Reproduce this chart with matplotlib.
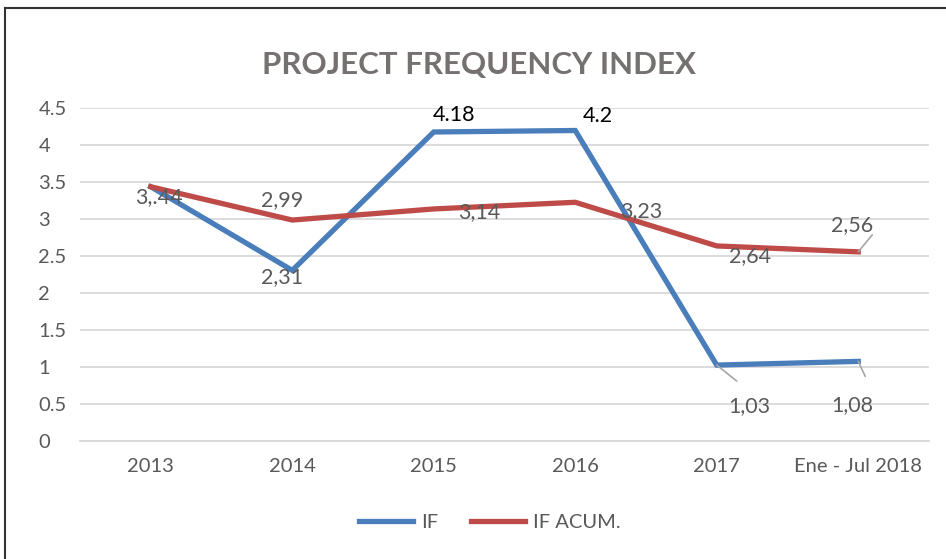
import matplotlib.pyplot as plt
from matplotlib.lines import Line2D

# data
categories = ['2013', '2014', '2015', '2016', '2017', 'Ene - Jul 2018']
if_values = [3.44, 2.31, 4.18, 4.20, 1.03, 1.08]
if_acum_values = [3.44, 2.99, 3.14, 3.23, 2.64, 2.56]
if_labels = ['', '2,31', '4.18', '4.2', '1,03', '1,08']
if_acum_labels = ['3,.44', '2,99', '3,14', '3,23', '2,64', '2,56']

plt.rcParams['font.family'] = ['Lato', 'DejaVu Sans']

BLUE = '#4a7ebb'
RED = '#be4b48'
GRAY = '#595959'

fig = plt.figure(figsize=(9.46, 5.59), dpi=100)
ax = fig.add_axes([80 / 946, 1 - 441.3 / 559, 849 / 946, 333 / 559])

x = list(range(len(categories)))
ax.plot(x, if_values, color=BLUE, lw=3.8, solid_joinstyle='miter', label='IF', zorder=3)
ax.plot(x, if_acum_values, color=RED, lw=3.8, solid_joinstyle='miter', label='IF ACUM.', zorder=3)

ax.set_xlim(-0.5, len(categories) - 0.5)
ax.set_ylim(0, 4.5)
ax.set_yticks([0, 0.5, 1, 1.5, 2, 2.5, 3, 3.5, 4, 4.5])
ax.set_yticklabels(['0', '0.5', '1', '1.5', '2', '2.5', '3', '3.5', '4', '4.5'])
ax.set_xticks(x)
ax.set_xticklabels(categories)
ax.grid(axis='y', color='#d9d9d9', lw=1.3, zorder=0)
ax.tick_params(axis='both', length=0, labelsize=14.5, labelcolor=GRAY)
ax.tick_params(axis='y', pad=30)
for t in ax.get_yticklabels():
    t.set_horizontalalignment('left')
ax.tick_params(axis='x', pad=12)
for s in ['top', 'right', 'left']:
    ax.spines[s].set_visible(False)
ax.spines['bottom'].set_color('#d9d9d9')
ax.spines['bottom'].set_linewidth(1.3)

# label offsets in pixels (dx, dy)
if_offsets = [(0, 0), (-10, -7), (20, 17), (23, 15), (33, -41), (-6, -44)]
acum_offsets = [(8, -10), (-10, 20), (45, -3), (66, -9), (33, -10), (-6, 27)]
if_colors = [GRAY, GRAY, '#000000', '#000000', GRAY, GRAY]

for i, (lab, off) in enumerate(zip(if_labels, if_offsets)):
    if lab:
        ax.annotate(lab, (x[i], if_values[i]), xytext=off, textcoords='offset pixels',
                    ha='center', va='center', fontsize=15.5, color=if_colors[i], zorder=5)
for i, (lab, off) in enumerate(zip(if_acum_labels, acum_offsets)):
    ax.annotate(lab, (x[i], if_acum_values[i]), xytext=off, textcoords='offset pixels',
                ha='center', va='center', fontsize=15.5, color=GRAY, zorder=5)

# leader lines
ax.annotate('', (x[4], if_values[4]), xytext=(20, -16), textcoords='offset pixels',
            arrowprops=dict(arrowstyle='-', color='#a6a6a6', lw=1.2, shrinkA=0, shrinkB=0))
ax.annotate('', (x[5], if_values[5]), xytext=(7, -15), textcoords='offset pixels',
            arrowprops=dict(arrowstyle='-', color='#a6a6a6', lw=1.2, shrinkA=0, shrinkB=0))
ax.annotate('', (x[5], if_acum_values[5]), xytext=(14, 17), textcoords='offset pixels',
            arrowprops=dict(arrowstyle='-', color='#a6a6a6', lw=1.2, shrinkA=0, shrinkB=0))

fig.text(479 / 946, 1 - 65 / 559, 'PROJECT FREQUENCY INDEX', ha='center', va='center',
         fontsize=22.5, fontweight='bold', color='#767171')

fig.legend(loc='center', bbox_to_anchor=(490 / 946, 1 - 522 / 559), ncol=2, frameon=False,
           fontsize=14.5, labelcolor=GRAY, handlelength=2.7, columnspacing=1.6,
           handletextpad=0.4)

# outer frame (top and left edges visible)
fig.add_artist(Line2D([5 / 946, 1], [1 - 8 / 559, 1 - 8 / 559], color='#333333', lw=1.5,
                      transform=fig.transFigure))
fig.add_artist(Line2D([5 / 946, 5 / 946], [0, 1 - 8 / 559], color='#333333', lw=1.5,
                      transform=fig.transFigure))

fig.savefig('out.png', dpi=100)
